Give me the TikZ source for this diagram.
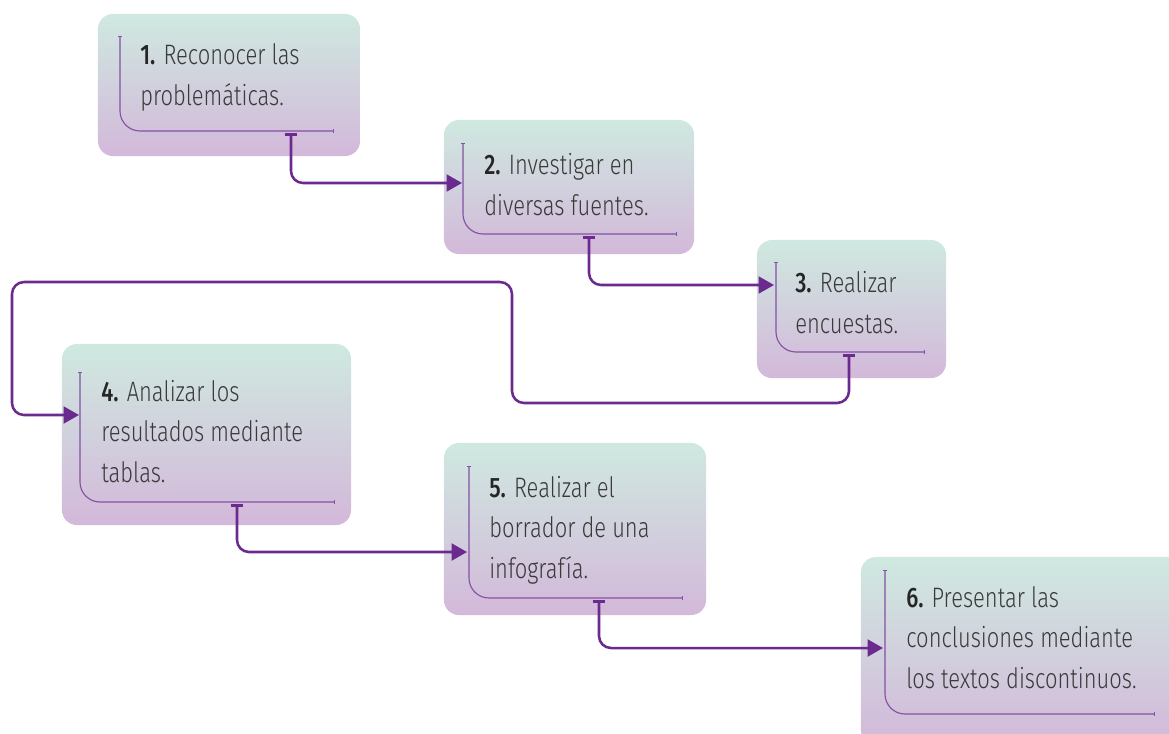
\documentclass[tikz,border=0pt]{standalone}
\usepackage{fontspec}
\setmainfont{Fira Sans}[FakeStretch=0.78, UprightFont=* Light, BoldFont=* Medium]
\usepackage[dvipsnames]{xcolor}
\usetikzlibrary{arrows.meta}
\definecolor{mint}{HTML}{CFE9E0}
\definecolor{midgray}{HTML}{D1D8E0}
\definecolor{lilac}{HTML}{D3B8DA}
\definecolor{linepurple}{HTML}{6B2A8E}
\definecolor{innerpurple}{HTML}{8450A6}
\definecolor{textgray}{HTML}{3A3A3A}
\newcommand{\stepno}[1]{\textbf{\color{black!85}#1}}

\begin{document}
\begin{tikzpicture}[x=0.025cm, y=-0.025cm,
	box/.style={rectangle, rounded corners=0.375cm, top color=mint, middle color=midgray, bottom color=lilac, draw=none, inner sep=0pt},
	txt/.style={anchor=base west, align=left, inner sep=0pt, text=textgray, font=\fontsize{20}{28.5}\selectfont},
	inner/.style={innerpurple, line width=0.8pt, rounded corners=0.5cm, {Bar[width=3pt]}-{Bar[width=3pt]}},
	conn/.style={linepurple, line width=1.8pt, rounded corners=0.3cm, {Bar[width=9pt, line width=2.2pt]}-{Triangle[length=11pt, width=12pt]}}]
	\useasboundingbox (0,0) rectangle (1169,733);
	\clip (0,0) rectangle (1169,733);
	% draw boxes
	\node[box, minimum width=6.55cm, minimum height=3.55cm] (b1) at (229,85) {};
	\node[box, minimum width=6.25cm, minimum height=3.35cm] (b2) at (569,187) {};
	\node[box, minimum width=4.725cm, minimum height=3.45cm] (b3) at (851.5,309) {};
	\node[box, minimum width=7.225cm, minimum height=4.525cm] (b4) at (206.5,434.5) {};
	\node[box, minimum width=6.55cm, minimum height=4.3cm] (b5) at (575,529) {};
	\node[box, minimum width=8.1cm, minimum height=4.7cm] (b6) at (1023,651) {};
	% inner corner lines
	\draw[inner] (120,36) -- (120,131) -- (334,131);
	\draw[inner] (463,143) -- (463,234) -- (677,234);
	\draw[inner] (776,262) -- (776,352) -- (925,352);
	\draw[inner] (80,372) -- (80,502) -- (335,502);
	\draw[inner] (469,466) -- (469,598) -- (683,598);
	\draw[inner] (885,570) -- (885,714) -- (1155,714);
	% texts (anchored at the last line)
	\node[txt] (t1) at (140,105) {\stepno{1.} Reconocer las\\problemáticas.};
	\node[txt] (t2) at (484,215) {\stepno{2.} Investigar en\\diversas fuentes.};
	\node[txt] (t3) at (795,333) {\stepno{3.} Realizar\\encuestas.};
	\node[txt] (t4) at (101,482) {\stepno{4.} Analizar los\\resultados mediante\\tablas.};
	\node[txt] (t5) at (489,578) {\stepno{5.} Realizar el\\borrador de una\\infografía.};
	\node[txt] (t6) at (906,688) {\stepno{6.} Presentar las\\conclusiones mediante\\los textos discontinuos.};
	% connector ends
	\coordinate (s1) at (291,133);
	\coordinate (e1) at (462,183);
	\coordinate (s2) at (589,236);
	\coordinate (e2) at (774,285);
	\coordinate (s3) at (849,354);
	\coordinate (e3) at (79,415);
	\coordinate (s4) at (237,504);
	\coordinate (e4) at (467,552);
	\coordinate (s5) at (599,600);
	\coordinate (e5) at (883,648);
	% add arrows
	\draw[conn] (s1) |- (e1);
	\draw[conn] (s2) |- (e2);
	\draw[conn] (s3) |- (512,403) |- (12,282) |- (e3);
	\draw[conn] (s4) |- (e4);
	\draw[conn] (s5) |- (e5);
\end{tikzpicture}
\end{document}
